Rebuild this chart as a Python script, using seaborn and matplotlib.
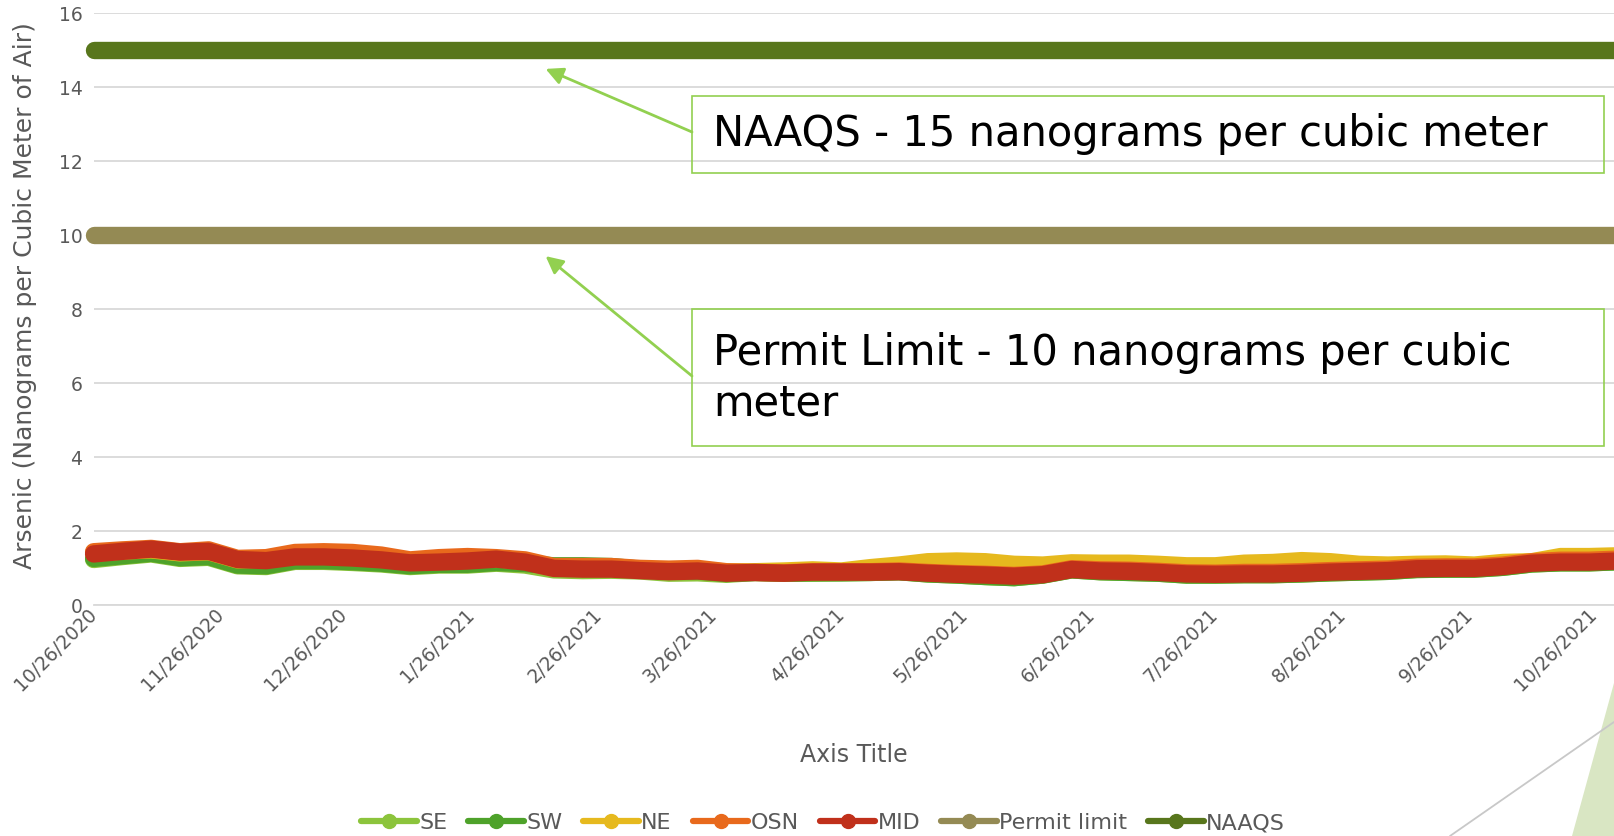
import numpy as np
import pandas as pd
import matplotlib.pyplot as plt
import matplotlib.dates as mdates
import seaborn as sns
from matplotlib.lines import Line2D
from matplotlib.patches import Rectangle, Polygon
from matplotlib.transforms import ScaledTranslation

# weekly readings, starting 10/26/2020
dates = pd.date_range('2020-10-26', periods=54, freq='7D')

se = [1.23, 1.31, 1.38, 1.26, 1.29, 1.06, 1.04, 1.18, 1.18, 1.15, 1.11, 1.04, 1.08, 1.08,
      1.13, 1.08, 0.95, 0.93, 0.94, 0.92, 0.86, 0.87, 0.83, 0.88, 0.86, 0.86, 0.87,
      0.88, 0.90, 0.84, 0.81, 0.77, 0.74, 0.81, 0.95, 0.90, 0.88, 0.86, 0.81, 0.81,
      0.82, 0.82, 0.84, 0.87, 0.89, 0.91, 0.96, 0.97, 0.97, 1.02, 1.11, 1.14, 1.14, 1.17]
sw = [1.26, 1.33, 1.40, 1.28, 1.31, 1.08, 1.06, 1.20, 1.20, 1.17, 1.13, 1.06, 1.10, 1.10,
      1.15, 1.12, 1.06, 1.06, 1.04, 0.97, 0.93, 0.92, 0.85, 0.88, 0.86, 0.87, 0.87,
      0.88, 0.90, 0.84, 0.81, 0.77, 0.74, 0.81, 0.95, 0.90, 0.88, 0.86, 0.81, 0.81,
      0.82, 0.82, 0.84, 0.87, 0.89, 0.91, 0.96, 0.97, 0.97, 1.02, 1.11, 1.14, 1.14, 1.17]
ne = [1.40, 1.46, 1.49, 1.41, 1.44, 1.22, 1.24, 1.36, 1.38, 1.36, 1.30, 1.18, 1.24, 1.27,
      1.25, 1.18, 1.00, 1.00, 1.00, 0.96, 0.94, 0.96, 0.89, 0.90, 0.92, 0.95, 0.92,
      1.01, 1.08, 1.17, 1.19, 1.17, 1.10, 1.08, 1.14, 1.13, 1.13, 1.10, 1.06, 1.06,
      1.13, 1.15, 1.20, 1.17, 1.10, 1.08, 1.10, 1.11, 1.08, 1.15, 1.17, 1.31, 1.31, 1.33]
osn = [1.44, 1.49, 1.53, 1.44, 1.49, 1.26, 1.28, 1.42, 1.44, 1.42, 1.35, 1.22, 1.28, 1.31,
       1.28, 1.22, 1.04, 1.04, 1.04, 0.99, 0.97, 0.99, 0.90, 0.88, 0.87, 0.90, 0.90,
       0.90, 0.92, 0.88, 0.85, 0.83, 0.80, 0.84, 0.98, 0.95, 0.94, 0.91, 0.87, 0.86,
       0.88, 0.88, 0.90, 0.93, 0.95, 0.97, 1.02, 1.03, 1.03, 1.08, 1.17, 1.21, 1.21, 1.24]
mid = [1.38, 1.45, 1.51, 1.43, 1.45, 1.23, 1.20, 1.30, 1.30, 1.27, 1.22, 1.14, 1.16, 1.19,
       1.24, 1.16, 0.99, 0.97, 0.97, 0.93, 0.90, 0.92, 0.86, 0.88, 0.86, 0.89, 0.89,
       0.89, 0.90, 0.86, 0.83, 0.81, 0.78, 0.82, 0.96, 0.92, 0.91, 0.88, 0.84, 0.83,
       0.84, 0.84, 0.86, 0.89, 0.91, 0.93, 0.98, 0.99, 0.99, 1.04, 1.13, 1.16, 1.16, 1.19]
permit_limit = [10] * len(dates)
naaqs = [15] * len(dates)

sites = ['SE', 'SW', 'NE', 'OSN', 'MID', 'Permit limit', 'NAAQS']
colors = ['#8CC43C', '#4EA22A', '#E6B91E', '#E8691C', '#C0301B', '#948A54', '#58761C']

tick_dates = ['2020-10-26', '2020-11-26', '2020-12-26', '2021-01-26', '2021-02-26', '2021-03-26',
              '2021-04-26', '2021-05-26', '2021-06-26', '2021-07-26', '2021-08-26', '2021-09-26',
              '2021-10-26']
tick_labels = ['10/26/2020', '11/26/2020', '12/26/2020', '1/26/2021', '2/26/2021', '3/26/2021',
               '4/26/2021', '5/26/2021', '6/26/2021', '7/26/2021', '8/26/2021', '9/26/2021',
               '10/26/2021']

df = pd.DataFrame({'date': dates, 'SE': se, 'SW': sw, 'NE': ne, 'OSN': osn, 'MID': mid,
                   'Permit limit': permit_limit, 'NAAQS': naaqs})
long_df = df.melt(id_vars='date', var_name='site', value_name='arsenic')

sns.set_style('white')
plt.rcParams['font.family'] = ['DejaVu Sans']
gray = '#595959'
W, H = 1614, 836

fig = plt.figure(figsize=(W / 100, H / 100), dpi=100)
ax = fig.add_axes([0.058, 0.2763, 0.942, 0.7081])

sns.lineplot(data=long_df, x='date', y='arsenic', hue='site', hue_order=sites,
             palette=dict(zip(sites, colors)), linewidth=12.5, errorbar=None,
             legend=False, ax=ax, solid_capstyle='round', clip_on=False)

ax.set_xlim(pd.Timestamp('2020-10-26'), pd.Timestamp('2021-10-31'))
ax.set_ylim(0, 16)
ax.set_yticks(range(0, 17, 2))
ax.set_xticks(pd.to_datetime(tick_dates))
ax.set_xticklabels(tick_labels, rotation=45, ha='right', va='center', rotation_mode='anchor')
shift = ScaledTranslation(-3 / 72, 1 / 72, fig.dpi_scale_trans)
for lbl in ax.get_xticklabels():
    lbl.set_transform(lbl.get_transform() + shift)
ax.yaxis.grid(True, color='#D9D9D9', lw=1.3)
ax.xaxis.grid(False)
ax.set_axisbelow(True)
for s in ['top', 'right', 'left']:
    ax.spines[s].set_visible(False)
ax.spines['bottom'].set_color('#D9D9D9')
ax.spines['bottom'].set_linewidth(1.3)
ax.tick_params(axis='x', length=5, width=1.3, color='#D9D9D9', labelcolor=gray, labelsize=13.5, pad=0)
ax.tick_params(axis='y', length=0, labelcolor=gray, labelsize=13.5, pad=8)

ax.set_xlabel('Axis Title', fontsize=17, color=gray, va='center')
ax.xaxis.set_label_coords(0.5, -0.253)
ax.set_ylabel('Arsenic (Nanograms per Cubic Meter of Air)', fontsize=18, color=gray, va='center')
ax.yaxis.set_label_coords(-0.045, 0.522)

# annotation boxes
box_col = '#92D050'
def box(x0, y0, x1, y1):
    fig.add_artist(Rectangle((x0 / W, 1 - y1 / H), (x1 - x0) / W, (y1 - y0) / H,
                             transform=fig.transFigure, fill=False, ec=box_col, lw=1.2))

box(692, 96, 1604, 173)
box(692, 309, 1604, 446)
fig.text(713 / W, 1 - 134 / H, 'NAAQS - 15 nanograms per cubic meter', fontsize=30,
         ha='left', va='center', color='black')
fig.text(713 / W, 1 - 378 / H, 'Permit Limit - 10 nanograms per cubic\nmeter', fontsize=30,
         ha='left', va='center', color='black', linespacing=1.25)

arrow = dict(arrowstyle='-|>', color=box_col, lw=2, mutation_scale=26, shrinkA=0, shrinkB=0)
ax.annotate('', xy=(mdates.date2num(pd.Timestamp('2021-02-13')), 14.49), xycoords='data',
            xytext=(692 / W, 1 - 132 / H), textcoords='figure fraction', arrowprops=arrow)
ax.annotate('', xy=(mdates.date2num(pd.Timestamp('2021-02-13')), 9.43), xycoords='data',
            xytext=(692 / W, 1 - 376 / H), textcoords='figure fraction', arrowprops=arrow)

# slide decoration in the bottom right corner
fig.add_artist(Polygon([(1572 / W, 0), (1614 / W, 1 - 683 / H), (1614 / W, 0)],
                       transform=fig.transFigure, closed=True, fc='#D9E6C3', ec='none'))
fig.add_artist(Line2D([1450 / W, 1614 / W], [0, 1 - 722 / H], transform=fig.transFigure,
                      color='#C8C8C8', lw=1.3))

handles = [Line2D([0], [0], color=c, lw=4.5, marker='o', markersize=10) for c in colors]
leg = fig.legend(handles, sites, loc='center', bbox_to_anchor=(0.51, 0.0155), ncol=7,
                 frameon=False, fontsize=16, handlelength=2.5, handletextpad=0.1,
                 columnspacing=0.95)
for t in leg.get_texts():
    t.set_color(gray)

fig.savefig('out.png', dpi=100)
